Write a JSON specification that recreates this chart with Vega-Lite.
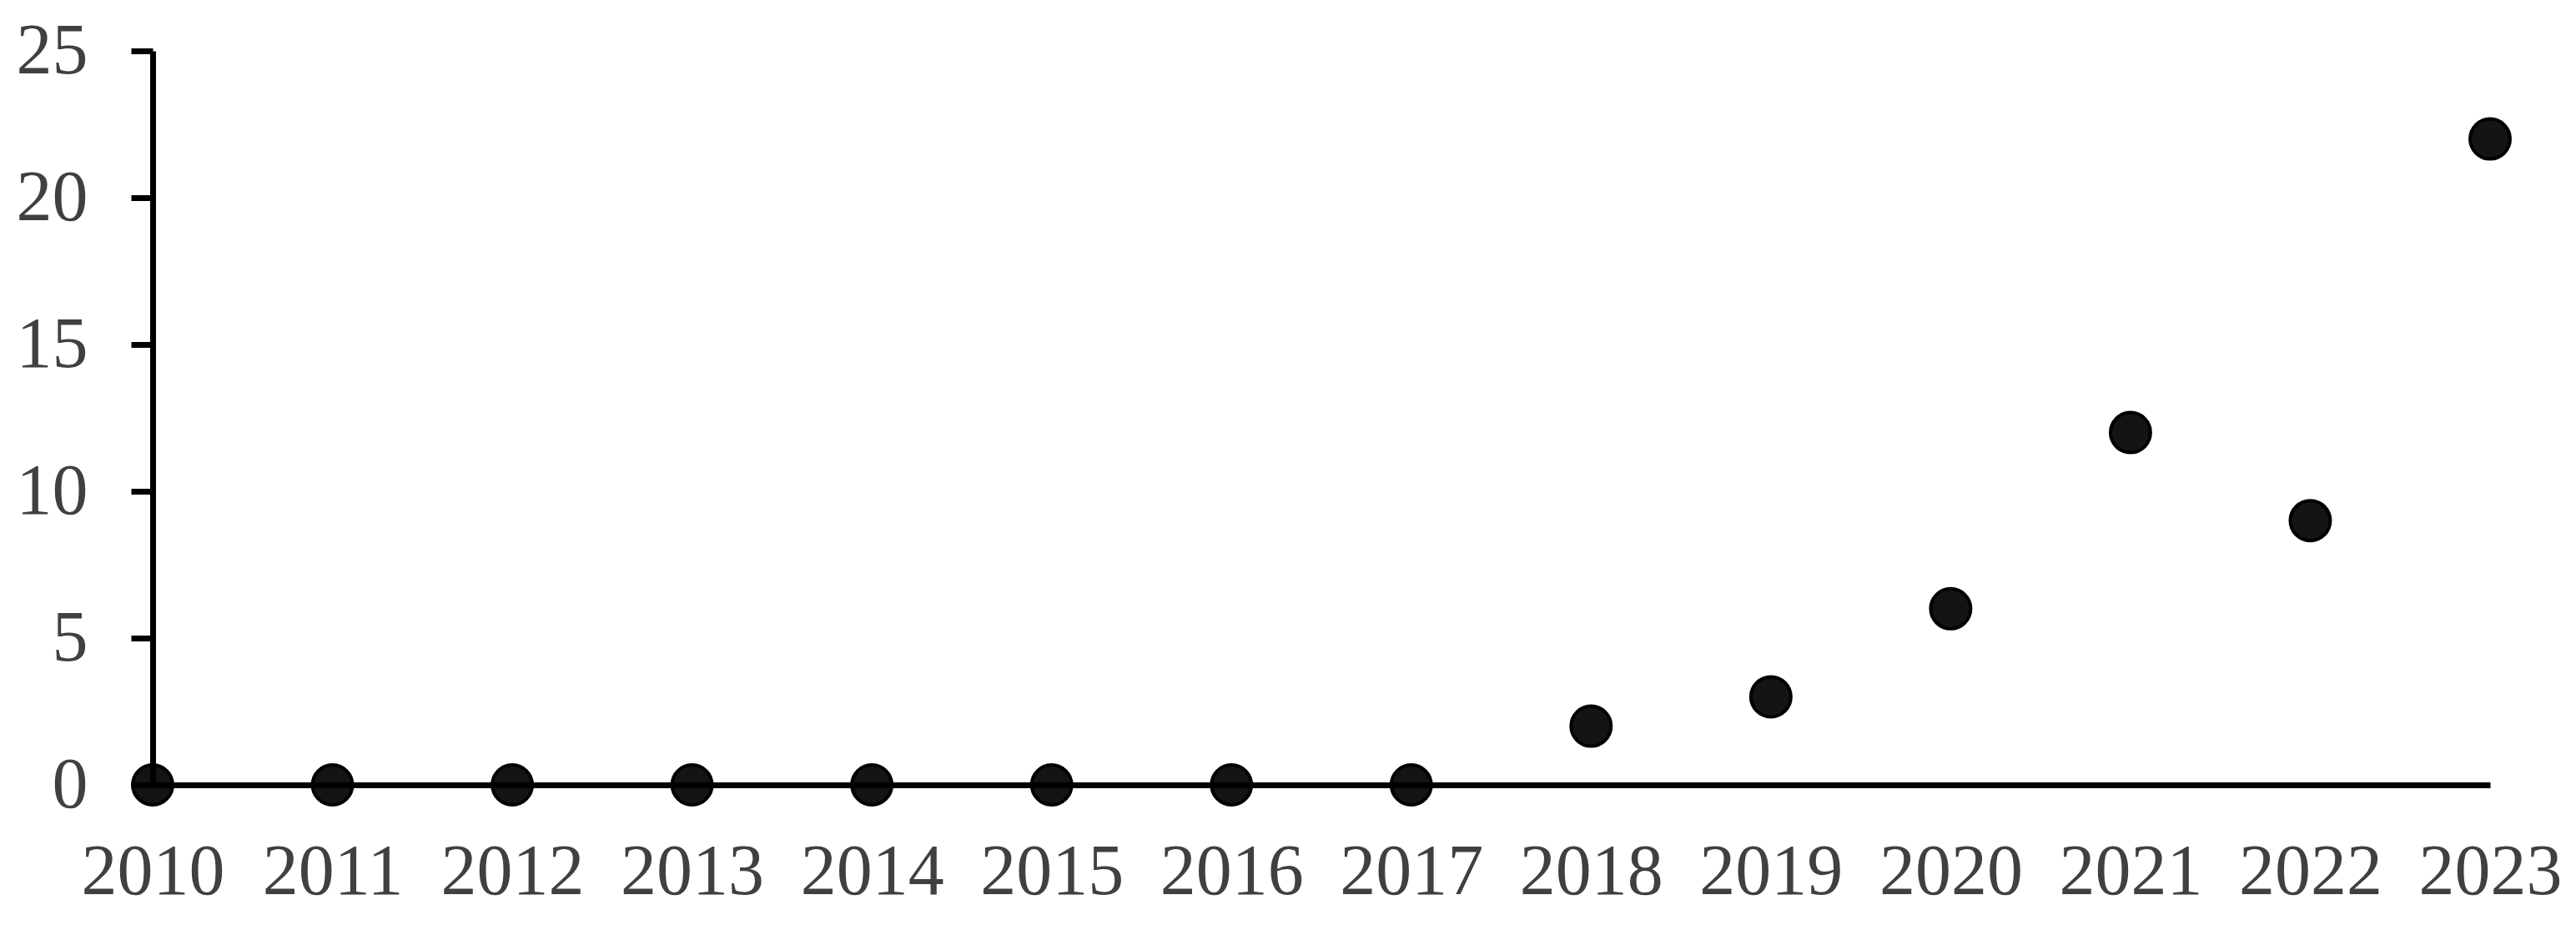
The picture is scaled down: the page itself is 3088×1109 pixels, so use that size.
{
  "$schema": "https://vega.github.io/schema/vega-lite/v6.json",
  "autosize": "none",
  "width": 2802,
  "height": 880,
  "padding": {"left": 183, "top": 61, "right": 103, "bottom": 168},
  "background": "white",
  "config": {"view": {"stroke": null}},
  "data": {
    "values": [
      {"year": 2010, "count": 0},
      {"year": 2011, "count": 0},
      {"year": 2012, "count": 0},
      {"year": 2013, "count": 0},
      {"year": 2014, "count": 0},
      {"year": 2015, "count": 0},
      {"year": 2016, "count": 0},
      {"year": 2017, "count": 0},
      {"year": 2018, "count": 2},
      {"year": 2019, "count": 3},
      {"year": 2020, "count": 6},
      {"year": 2021, "count": 12},
      {"year": 2022, "count": 9},
      {"year": 2023, "count": 22}
    ]
  },
  "mark": {"type": "point", "filled": true, "fill": "#141414", "stroke": "#000000", "strokeWidth": 4, "size": 2300, "opacity": 1, "strokeOpacity": 1, "fillOpacity": 1},
  "encoding": {
    "x": {
      "field": "year",
      "type": "quantitative",
      "scale": {"domain": [2010, 2023], "nice": false, "zero": false},
      "axis": {
        "title": null,
        "values": [2010, 2011, 2012, 2013, 2014, 2015, 2016, 2017, 2018, 2019, 2020, 2021, 2022, 2023],
        "format": "d",
        "grid": false,
        "ticks": false,
        "tickSize": 0,
        "domainColor": "#000000",
        "domainWidth": 7,
        "labelFont": "Times New Roman, Liberation Serif, serif",
        "labelFontSize": 86,
        "labelColor": "#404040",
        "labelPadding": 62,
        "labelBaseline": "top",
        "labelFlush": false,
        "labelOverlap": false,
        "zindex": 1
      }
    },
    "y": {
      "field": "count",
      "type": "quantitative",
      "scale": {"domain": [0, 25], "nice": false},
      "axis": {
        "title": null,
        "values": [0, 5, 10, 15, 20, 25],
        "grid": false,
        "domainColor": "#000000",
        "domainWidth": 7,
        "tickColor": "#000000",
        "tickWidth": 7,
        "tickSize": 26,
        "labelFont": "Times New Roman, Liberation Serif, serif",
        "labelFontSize": 86,
        "labelColor": "#404040",
        "labelPadding": 52,
        "labelFlush": false,
        "labelOverlap": false,
        "zindex": 1
      }
    }
  }
}
